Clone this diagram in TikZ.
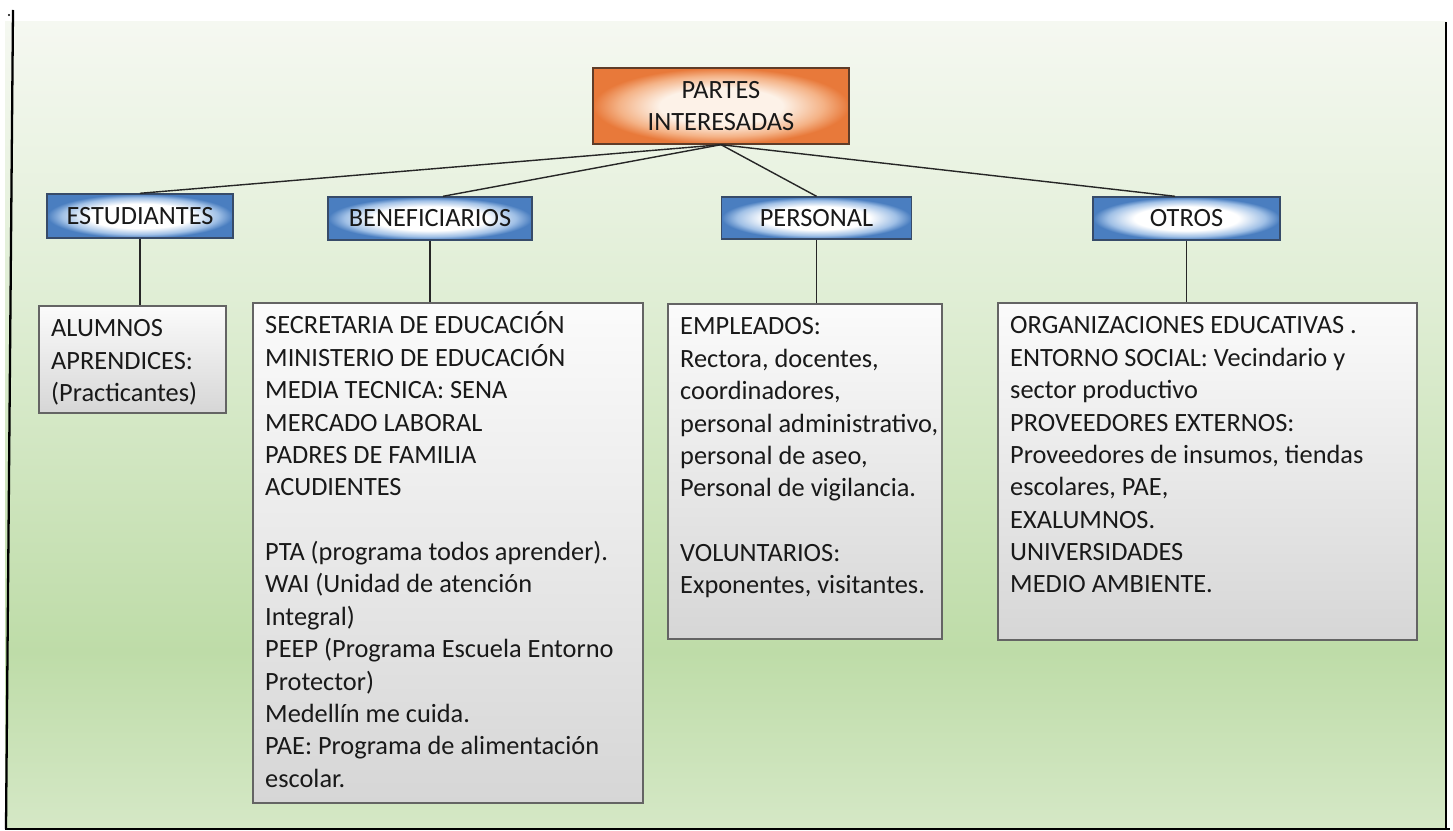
\documentclass[tikz,border=0pt]{standalone}
\usepackage{fontspec}
\setmainfont{Carlito}

% colores
\definecolor{fondoA}{RGB}{245,248,241}
\definecolor{fondoM}{RGB}{224,238,213}
\definecolor{fondoB}{RGB}{190,220,168}
\definecolor{fondoC}{RGB}{213,232,198}
\definecolor{azul}{RGB}{74,126,192}
\definecolor{azulMedio}{RGB}{160,192,230}
\definecolor{azulBorde}{RGB}{55,75,105}
\definecolor{naranja}{RGB}{232,121,58}
\definecolor{naranjaMedio}{RGB}{244,178,134}
\definecolor{naranjaCentro}{RGB}{253,242,232}
\definecolor{naranjaBorde}{RGB}{95,60,40}
\definecolor{grisA}{RGB}{251,251,251}
\definecolor{grisB}{RGB}{214,214,214}
\definecolor{grisBorde}{RGB}{100,100,100}
\definecolor{texto}{RGB}{25,25,25}

\pgfdeclareverticalshading{fondo}{100bp}{color(0bp)=(fondoC); color(25bp)=(fondoC); color(36bp)=(fondoB); color(58bp)=(fondoM); color(75bp)=(fondoA); color(100bp)=(fondoA)}
\pgfdeclareradialshading{centroazul}{\pgfpoint{0bp}{0bp}}{color(0bp)=(white); color(14bp)=(white); color(21bp)=(azulMedio); color(25bp)=(azul); color(50bp)=(azul)}
\pgfdeclareradialshading{centronaranja}{\pgfpoint{0bp}{0bp}}{color(0bp)=(naranjaCentro); color(12bp)=(naranjaCentro); color(20bp)=(naranjaMedio); color(25bp)=(naranja); color(50bp)=(naranja)}

\newcommand{\cajatexto}[3]{\parbox[t][#2][t]{#1}{\leftskip=0.24cm\rightskip=0pt plus 1fil\strut#3}}

\begin{document}
\begin{tikzpicture}[x=0.02cm, y=-0.02cm,
  every node/.style={font=\fontsize{15}{18.43}\selectfont, text=texto},
  principal/.style={draw=naranjaBorde, line width=0.8pt, shading=centronaranja, align=center},
  grupo/.style={draw=azulBorde, line width=0.8pt, shading=centroazul},
  lista/.style={draw=grisBorde, line width=1.4pt, top color=grisA, bottom color=grisB, anchor=north west, inner xsep=0pt, inner ysep=0.16cm},
  linea/.style={draw=black!85, line width=0.8pt}]
  \useasboundingbox (0,0) rectangle (1453,831);

  % fondo
  \shade[shading=fondo] (5,22) rectangle (1446,829);
  \draw[line width=1.3pt] (13,10) -- (6,829);
  \draw[line width=1.2pt] (1446,22) -- (1446,829) (5,829) -- (1450,829);
  \fill (9,15) circle (1.2);

  % nodo principal
  \node[principal, minimum width=5.12cm, minimum height=1.52cm] (top) at (721,106) {PARTES\\INTERESADAS};

  % grupos
  \node[grupo, minimum width=3.72cm, minimum height=0.88cm] (est) at (140,216) {ESTUDIANTES};
  \node[grupo, minimum width=4.08cm, minimum height=0.86cm] (ben) at (430,218.5) {BENEFICIARIOS};
  \node[grupo, minimum width=3.8cm, minimum height=0.84cm] (per) at (816.5,218) {PERSONAL};
  \node[grupo, minimum width=3.74cm, minimum height=0.86cm] (otr) at (1186.5,218.5) {OTROS};

  % listas
  \node[lista] (alu) at (38,305) {\cajatexto{3.74cm}{1.82cm}{ALUMNOS\\APRENDICES:\\(Practicantes)}};
  \node[lista] (benl) at (252,302) {\cajatexto{7.8cm}{9.68cm}{SECRETARIA DE EDUCACIÓN\\MINISTERIO DE EDUCACIÓN\\MEDIA TECNICA: SENA\\MERCADO LABORAL\\PADRES DE FAMILIA\\ACUDIENTES\\ \mbox{}\\PTA (programa todos aprender).\\WAI (Unidad de atención\\Integral)\\PEEP (Programa Escuela Entorno\\Protector)\\Medellín me cuida.\\PAE: Programa de alimentación\\escolar.}};
  \node[lista] (perl) at (667,303) {\cajatexto{5.48cm}{6.38cm}{EMPLEADOS:\\Rectora, docentes,\\coordinadores,\\personal~administrativo,\\personal de aseo,\\Personal de vigilancia.\\ \mbox{}\\VOLUNTARIOS:\\Exponentes, visitantes.}};
  \node[lista] (otrl) at (997,302) {\cajatexto{8.38cm}{6.42cm}{ORGANIZACIONES EDUCATIVAS .\\ENTORNO SOCIAL: Vecindario y\\sector productivo\\PROVEEDORES EXTERNOS:\\Proveedores de insumos, tiendas\\escolares, PAE,\\EXALUMNOS.\\UNIVERSIDADES\\MEDIO AMBIENTE.}};

  % conectores
  \draw[linea] (top.south) -- (est.north);
  \draw[linea] (top.south) -- ([xshift=0.26cm]ben.north);
  \draw[linea] (top.south) -- (per.north);
  \draw[linea] (top.south) -- ([xshift=-0.23cm]otr.north);

  \draw[linea] (est.south) -- (est.south |- alu.north);
  \draw[linea] (ben.south) -- (ben.south |- benl.north);
  \draw[linea] (per.south) -- (per.south |- perl.north);
  \draw[linea] (otr.south) -- (otr.south |- otrl.north);
\end{tikzpicture}
\end{document}
